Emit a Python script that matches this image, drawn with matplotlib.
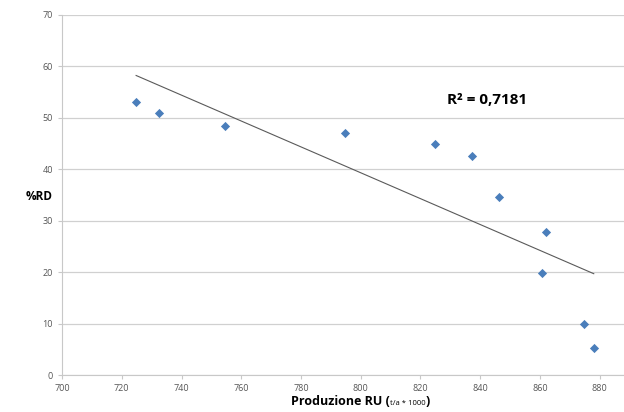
import matplotlib
matplotlib.use("Agg")
import matplotlib.pyplot as plt
import numpy as np

# data
produzione = [724.8, 732.6, 754.6, 794.7, 825.0, 837.1, 846.4, 862.1, 860.7, 874.9, 878.0]
rd_pct = [53.0, 50.9, 48.5, 47.1, 44.9, 42.5, 34.7, 27.9, 19.8, 9.9, 5.3]
x_ticks = [700, 720, 740, 760, 780, 800, 820, 840, 860, 880]
y_ticks = [0, 10, 20, 30, 40, 50, 60, 70]
r2_label = "R² = 0,7181"

plt.rcParams['font.family'] = ['Open Sans', 'DejaVu Sans']

fig = plt.figure(figsize=(6.24, 4.12), dpi=100)
ax = fig.add_axes([0.0994, 0.0898, 0.9, 0.8738])

x = np.array(produzione)
y = np.array(rd_pct)

ax.scatter(x, y, marker='D', s=22, color='#4a7ebb', zorder=3, linewidths=0)

# linear trend line over the data range
slope, icpt = np.polyfit(x, y, 1)
xs = np.array([x.min(), x.max()])
ax.plot(xs, slope * xs + icpt, color='#5a5a5a', lw=0.8, zorder=2)

ax.set_xlim(700, 888)
ax.set_ylim(0, 70)
ax.set_xticks(x_ticks)
ax.set_yticks(y_ticks)
ax.yaxis.grid(True, color='#d0d0d0', lw=0.9)
ax.set_axisbelow(True)
for s in ['top', 'right']:
    ax.spines[s].set_visible(False)
for s in ['left', 'bottom']:
    ax.spines[s].set_color('#c8c8c8')
ax.tick_params(colors='#c8c8c8', labelcolor='#555555', labelsize=6.5, length=3)

ax.text(829, 53.5, r2_label, fontsize=11, fontweight='bold', va='center', ha='left')

fig.text(0.062, 0.522, "%RD", fontsize=8.5, fontweight='bold', ha='center', va='center')

# x label: bold main text with small unit part
fig.canvas.draw()
r = fig.canvas.get_renderer()
yl = 0.018
t1 = fig.text(0.463, yl, "Produzione RU (", fontsize=9, fontweight='bold', ha='left', va='baseline')
bb1 = t1.get_window_extent(r)
t2 = fig.text(bb1.x1 / 624, yl, "t/a * 1000", fontsize=5.5, ha='left', va='baseline')
bb2 = t2.get_window_extent(r)
t3 = fig.text(bb2.x1 / 624, yl, ")", fontsize=9, fontweight='bold', ha='left', va='baseline')
bb3 = t3.get_window_extent(r)
shift = (360 - (bb1.x0 + bb3.x1) / 2) / 624
for t in (t1, t2, t3):
    px, py = t.get_position()
    t.set_position((px + shift, py))

fig.savefig("out.png", dpi=100)
